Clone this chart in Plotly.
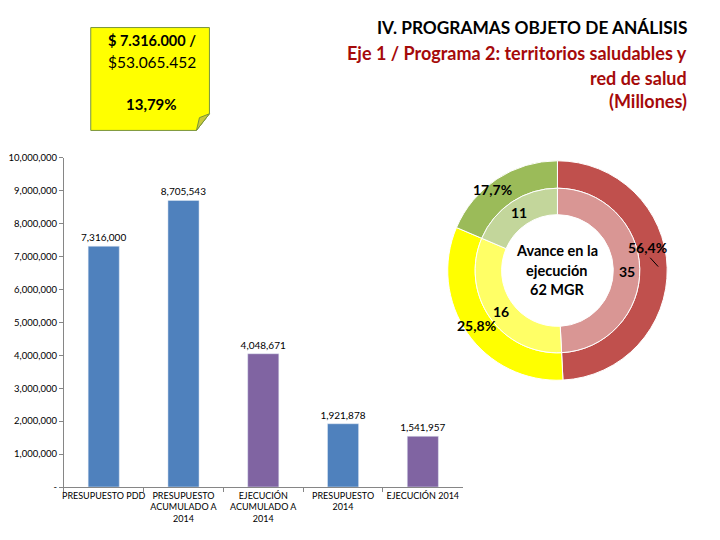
import plotly.graph_objects as go

W, H = 720, 540

# ---- data ----
categories = ["PRESUPUESTO PDD", "PRESUPUESTO<br>ACUMULADO A<br>2014",
              "EJECUCIÓN<br>ACUMULADO A<br>2014", "PRESUPUESTO<br>2014", "EJECUCIÓN 2014"]
values = [7316000, 8705543, 4048671, 1921878, 1541957]
bar_colors = ["#4F81BD", "#4F81BD", "#8064A2", "#4F81BD", "#8064A2"]

ytick_vals = [0, 1000000, 2000000, 3000000, 4000000, 5000000,
              6000000, 7000000, 8000000, 9000000, 10000000]
ytick_text = ["-"] + [f"{v:,}" for v in ytick_vals[1:]]

donut_labels = ["Rojo", "Amarillo", "Verde"]
donut_counts = [35, 16, 11]              # printed labels (MGR)
donut_pcts = ["56,4%", "25,8%", "17,7%"]  # printed labels
slice_share_drawn = [49.2, 32.2, 18.6]   # slice sizes as drawn in the picture
outer_colors = ["#C0504D", "#FFFF00", "#9BBB59"]
inner_colors = ["#D99694", "#FFFF66", "#C3D69B"]

FONT = "Lato"


def px(x):
    return x / W


def py(y):
    return 1 - y / H


fig = go.Figure()

fig.add_trace(go.Bar(
    x=categories, y=values, marker_color=bar_colors, width=0.39,
    text=[f"{v:,}" for v in values], textposition="outside", constraintext="none",
    textfont=dict(family=FONT, size=10, color="#000"), cliponaxis=False,
    showlegend=False, hoverinfo="skip"))

# donut
c_x, c_y = 557, 270
r_out, r_mid, r_hole = 112, 84, 57
fig.add_trace(go.Pie(
    labels=donut_labels, values=slice_share_drawn, sort=False, direction="clockwise",
    rotation=0, hole=r_mid / r_out, textinfo="none", showlegend=False,
    marker=dict(colors=outer_colors, line=dict(color="white", width=1)),
    domain=dict(x=[px(c_x - r_out), px(c_x + r_out)], y=[py(c_y + r_out), py(c_y - r_out)]),
    hoverinfo="skip"))
fig.add_trace(go.Pie(
    labels=donut_labels, values=slice_share_drawn, sort=False, direction="clockwise",
    rotation=0, hole=r_hole / r_mid, textinfo="none", showlegend=False,
    marker=dict(colors=inner_colors, line=dict(color="white", width=1)),
    domain=dict(x=[px(c_x - r_mid), px(c_x + r_mid)], y=[py(c_y + r_mid), py(c_y - r_mid)]),
    hoverinfo="skip"))

annotations = []


def ann(x, y, text, size, color="#000", bold=False, xanchor="center", family=FONT):
    annotations.append(dict(
        x=px(x), y=py(y), xref="paper", yref="paper", text=f"<b>{text}</b>" if bold else text,
        showarrow=False, xanchor=xanchor, yanchor="middle",
        font=dict(family=family, size=size, color=color)))


# titles
ann(689, 22, "IV. PROGRAMAS OBJETO DE ANÁLISIS", 17.3, "#000", True, "right")
ann(689, 48, "Eje 1 / Programa 2: territorios saludables y", 18, "#A50A0A", True, "right")
ann(689, 73, "red de salud", 18, "#A50A0A", True, "right")
ann(689, 97, "(Millones)", 18, "#A50A0A", True, "right")

# sticky note text
ann(150, 35, "$ 7.316.000 /", 14.5, "#000", True)
ann(150, 57, "$53.065.452", 15.5, "#000", False)
ann(150, 100, "13,79%", 15, "#000", True)

# donut labels
ann(557, 250, "Avance en la", 14.5, "#000", True)
ann(557, 270, "ejecución", 14.5, "#000", True)
ann(557, 289, "62 MGR", 14.5, "#000", True)
ann(647, 247, donut_pcts[0], 14, "#000", True)
ann(476, 326, donut_pcts[1], 14, "#000", True)
ann(492, 187, donut_pcts[2], 14, "#000", True)
ann(627, 271, str(donut_counts[0]), 14, "#000", True)
ann(500, 312, str(donut_counts[1]), 14, "#000", True)
ann(518, 211, str(donut_counts[2]), 14, "#000", True)

shapes = [
    # sticky note body with cut corner
    dict(type="path", xref="paper", yref="paper",
         path=f"M {px(89)},{py(22)} L {px(208)},{py(22)} L {px(208)},{py(110)} "
              f"L {px(195)},{py(127)} L {px(89)},{py(127)} Z",
         fillcolor="#FFFF00", line=dict(color="#77933C", width=1)),
    # fold
    dict(type="path", xref="paper", yref="paper",
         path=f"M {px(208)},{py(110)} L {px(195)},{py(127)} L {px(198)},{py(114)} Z",
         fillcolor="#C9C93A", line=dict(color="#77933C", width=1)),
    # leader line
    dict(type="line", xref="paper", yref="paper", x0=px(650), y0=py(257), x1=px(658), y1=py(266),
         line=dict(color="#000", width=1)),
]

fig.update_layout(
    width=W, height=H, margin=dict(l=0, r=0, t=0, b=0),
    paper_bgcolor="white", plot_bgcolor="white",
    annotations=annotations, shapes=shapes,
    xaxis=dict(domain=[px(62), px(462)], type="category", showgrid=False,
               showline=True, linecolor="#868686", linewidth=1, tickangle=0,
               ticks="outside", tickson="boundaries", ticklen=4, tickcolor="#868686",
               tickfont=dict(family=FONT, size=9, color="#000"), fixedrange=True),
    yaxis=dict(domain=[py(491), py(155)], range=[0, 10000000], showgrid=False, zeroline=False,
               showline=True, linecolor="#868686", linewidth=1,
               ticks="outside", ticklen=4, tickcolor="#868686",
               tickvals=ytick_vals, ticktext=ytick_text,
               tickfont=dict(family=FONT, size=9.5, color="#000"), fixedrange=True),
    bargap=0.61,
)

fig.write_html("out.html", config={"displayModeBar": False},
               post_script="document.body.style.margin='0';document.body.style.overflow='hidden';")
